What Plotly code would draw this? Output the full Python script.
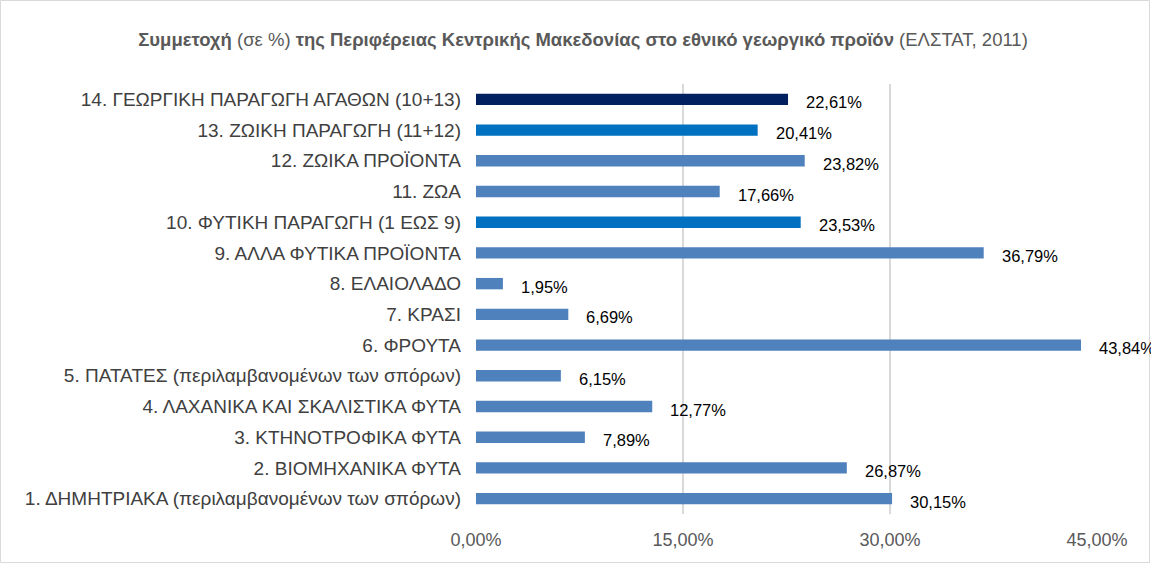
import plotly.graph_objects as go

categories = [
    "1. ΔΗΜΗΤΡΙΑΚΑ (περιλαμβανομένων των σπόρων)",
    "2. ΒΙΟΜΗΧΑΝΙΚΑ ΦΥΤΑ",
    "3. ΚΤΗΝΟΤΡΟΦΙΚΑ ΦΥΤΑ",
    "4. ΛΑΧΑΝΙΚΑ ΚΑΙ ΣΚΑΛΙΣΤΙΚΑ ΦΥΤΑ",
    "5. ΠΑΤΑΤΕΣ (περιλαμβανομένων των σπόρων)",
    "6. ΦΡΟΥΤΑ",
    "7. ΚΡΑΣΙ",
    "8. ΕΛΑΙΟΛΑΔΟ",
    "9. ΑΛΛΑ ΦΥΤΙΚΑ ΠΡΟΪΟΝΤΑ",
    "10. ΦΥΤΙΚΗ ΠΑΡΑΓΩΓΗ (1 ΕΩΣ 9)",
    "11. ΖΩΑ",
    "12. ΖΩΙΚΑ ΠΡΟΪΟΝΤΑ",
    "13. ΖΩΙΚΗ ΠΑΡΑΓΩΓΗ (11+12)",
    "14. ΓΕΩΡΓΙΚΗ ΠΑΡΑΓΩΓΗ ΑΓΑΘΩΝ (10+13)",
]
values = [30.15, 26.87, 7.89, 12.77, 6.15, 43.84, 6.69, 1.95, 36.79, 23.53, 17.66, 23.82, 20.41, 22.61]
bar_colors = ["#4F81BD"] * 9 + ["#0070C0", "#4F81BD", "#4F81BD", "#0070C0", "#002060"]
tick_vals = [0, 15, 30, 45]

def fmt(v):
    return f"{v:.2f}".replace(".", ",") + "%"

W, H = 1151, 564
L, R, T, B = 476, 54, 84, 50
pw = W - L - R
ph = H - T - B

fig = go.Figure()
fig.add_trace(go.Bar(
    x=values, y=categories, orientation="h",
    marker=dict(color=bar_colors, line=dict(width=0)),
    width=0.37,
    hoverinfo="skip",
))

for v, c in zip(values, categories):
    fig.add_annotation(
        x=v, y=c, xref="x", yref="y", text=fmt(v), showarrow=False,
        xanchor="left", yanchor="middle", xshift=16, yshift=-3,
        font=dict(family="Liberation Sans, Arial", size=16.5, color="#000000"),
    )

fig.update_layout(
    width=W, height=H,
    margin=dict(l=L, r=R, t=T, b=B),
    paper_bgcolor="white", plot_bgcolor="white",
    showlegend=False,
    title=dict(
        text="<b>Συμμετοχή</b> (σε %) <b>της Περιφέρειας Κεντρικής Μακεδονίας στο εθνικό γεωργικό προϊόν</b> (ΕΛΣΤΑΤ, 2011)",
        x=583 / W, xanchor="center", xref="container",
        y=1 - 40 / H, yanchor="middle", yref="container",
        font=dict(family="Liberation Sans, Arial", size=18.5, color="#595959"),
    ),
    xaxis=dict(
        range=[0, 45], tickvals=tick_vals,
        ticktext=[fmt(t) for t in tick_vals],
        showgrid=True, gridcolor="#D9D9D9", gridwidth=1.5,
        zeroline=False, showline=False, ticks="",
        ticklabelstandoff=13,
        tickfont=dict(family="Liberation Sans, Arial", size=18, color="#595959"),
        fixedrange=True,
    ),
    yaxis=dict(
        categoryorder="array", categoryarray=categories,
        showgrid=False, zeroline=False, showline=False, ticks="",
        ticklabelstandoff=14,
        tickfont=dict(family="Liberation Sans, Arial", size=19, color="#404040"),
        range=[-0.5, 13.5],
        fixedrange=True,
    ),
    shapes=[dict(
        type="rect", xref="paper", yref="paper",
        x0=-(L - 0.5) / pw, x1=(W - L - 1.5) / pw,
        y0=-(B - 1.5) / ph, y1=(H - B - 0.5) / ph,
        line=dict(color="#D9D9D9", width=1), fillcolor="rgba(0,0,0,0)", layer="below",
    )],
)

fig.write_html(
    "out.html",
    config={"displayModeBar": False},
    post_script="document.body.style.margin='0';document.body.style.overflow='hidden';",
)
